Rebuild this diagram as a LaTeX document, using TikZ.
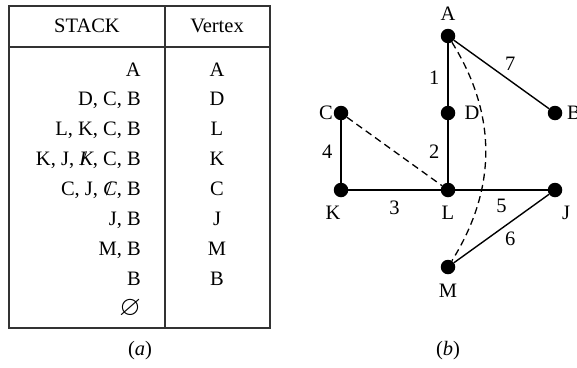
\documentclass[tikz,border=0pt]{standalone}
\usepackage{amssymb}
\usepackage{fontspec}
\setmainfont{Liberation Serif}
\begin{document}
\begin{tikzpicture}[x=1pt,y=-1pt,
  txt/.style={font=\fontsize{20.5}{24}\selectfont, inner sep=0pt},
  dot/.style={circle, fill=black, minimum size=14.5pt, inner sep=0pt},
  edge/.style={line width=1.4pt},
  dedge/.style={line width=1.3pt, dash pattern=on 7pt off 4.5pt},
  tbl/.style={line width=1.4pt, black!80}]
\useasboundingbox (0,0) rectangle (577,367);
% table
\draw[tbl] (9,6) rectangle (270,328);
\draw[tbl] (9,47) -- (270,47);
\draw[tbl] (165,6) -- (165,328);
\node[txt] (h1) at (87,26) {STACK};
\node[txt] (h2) at (217,26) {Vertex};
\foreach \s/\v/\y in {A/A/69, {D, C, B}/D/98, {L, K, C, B}/L/128,
  {K, J, \makebox[0pt][l]{\hspace{2pt}/}\textit{K}, C, B}/K/158,
  {C, J, \makebox[0pt][l]{\hspace{3pt}/}\textit{C}, B}/C/188,
  {J, B}/J/218, {M, B}/M/248, B/B/278}{
  \node[txt, anchor=base east] at (141,\y+7) {\s};
  \node[txt, anchor=base] at (217,\y+7) {\v};
}
\node[txt, anchor=base east] (empty) at (141,315) {\scalebox{1.35}{$\varnothing$}};
\node[txt] (ca) at (140,351) {(\textit{a})};
% graph
\node[dot] (A) at (448,36) {};
\node[dot] (D) at (448,113) {};
\node[dot] (B) at (555,113) {};
\node[dot] (C) at (341,113) {};
\node[dot] (K) at (341,190) {};
\node[dot] (L) at (448,190) {};
\node[dot] (J) at (555,190) {};
\node[dot] (M) at (448,267) {};
\node[txt] (lA) at (448,14) {A};
\node[txt] (lD) at (472,113) {D};
\node[txt] (lB) at (574,113) {B};
\node[txt] (lC) at (326,113) {C};
\node[txt] (lK) at (333,213) {K};
\node[txt] (lL) at (448,213) {L};
\node[txt] (lJ) at (566,213) {J};
\node[txt] (lM) at (448,291) {M};
\draw[edge] (A) -- node[txt, pos=0.55, left=8pt] {1} (D);
\draw[edge] (D) -- node[txt, pos=0.5, left=8pt] {2} (L);
\draw[edge] (A) -- node[txt, pos=0.5, above right=3pt] {7} (B);
\draw[edge] (C) -- node[txt, pos=0.5, left=8pt] {4} (K);
\draw[edge] (K) -- node[txt, pos=0.5, below=10pt] {3} (L);
\draw[edge] (L) -- node[txt, pos=0.5, below=8pt] {5} (J);
\draw[edge] (J) -- node[txt, pos=0.5, below right=3pt] {6} (M);
\draw[dedge] (C) -- (L);
\draw[dedge] (A) to[bend left=32] (M);
\node[txt] (cb) at (448,351) {(\textit{b})};
\end{tikzpicture}
\end{document}
